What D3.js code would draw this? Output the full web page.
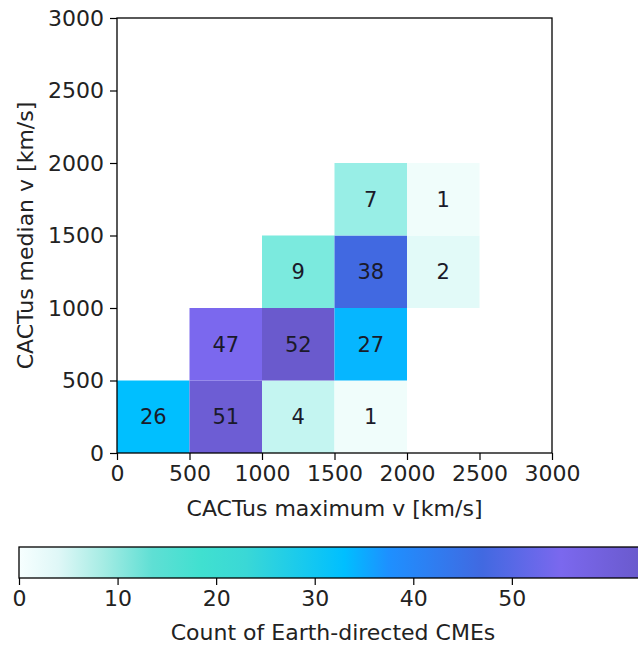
<!DOCTYPE html>
<html>
<head>
<meta charset="utf-8">
<script src="https://cdn.jsdelivr.net/npm/d3@7"></script>
<style>
  html, body { margin: 0; padding: 0; background: #fff; }
  svg { display: block; }
  text { font-family: "DejaVu Sans", sans-serif; }
</style>
</head>
<body>
<script>
// ---- data ----
const binSize = 500;
const maxVBins    = [0, 500, 1000, 1500, 500, 1000, 1500, 1000, 1500, 2000, 1500, 2000];
const medianVBins = [0, 0, 0, 0, 500, 500, 500, 1000, 1000, 1000, 1500, 1500];
const counts      = [26, 51, 4, 1, 47, 52, 27, 9, 38, 2, 7, 1];
const axisTicks   = [0, 500, 1000, 1500, 2000, 2500, 3000];
const cbTicks     = [0, 10, 20, 30, 40, 50];
// colormap for the cells
const cmapValues  = [0, 13, 26, 31, 38, 47, 52];
const cmapColors  = ["#ffffff", "#40e0d0", "#00bfff", "#1e90ff", "#4169e1", "#7b68ee", "#6a5acd"];
// colormap as drawn in the colour bar
const cbStopValues = [0, 4, 8.5, 13.5, 18.5, 23, 33, 37.5, 47, 55, 63];
const cbStopColors = ["#f7ffff", "#dff7f7", "#a6ece4", "#5fdfd4", "#40e0d0", "#3ad8d6", "#00bfff", "#1e90ff", "#4169e1", "#7b68ee", "#6a5acd"];
const cbMax = 63;

const W = 638, H = 648;
const FS = 22;
const svg = d3.select("body").append("svg").attr("width", W).attr("height", H);

const x = d3.scaleLinear().domain([0, 3000]).range([117, 552]);
const y = d3.scaleLinear().domain([0, 3000]).range([453, 18]);
const color = d3.scaleLinear().domain(cmapValues).range(cmapColors).interpolate(d3.interpolateRgb).clamp(true);

const cells = counts.map((c, i) => ({ x0: maxVBins[i], y0: medianVBins[i], c }));

const g = svg.append("g");
g.selectAll("rect.cell").data(cells).join("rect")
  .attr("class", "cell")
  .attr("x", d => x(d.x0))
  .attr("y", d => y(d.y0 + binSize))
  .attr("width", d => x(d.x0 + binSize) - x(d.x0))
  .attr("height", d => y(d.y0) - y(d.y0 + binSize))
  .attr("fill", d => color(d.c));

g.selectAll("text.cnt").data(cells).join("text")
  .attr("class", "cnt")
  .attr("x", d => x(d.x0 + binSize / 2))
  .attr("y", d => y(d.y0 + binSize / 2))
  .attr("dy", "0.36em")
  .attr("text-anchor", "middle")
  .attr("font-size", 21)
  .attr("fill", "#1a1a2a")
  .text(d => d.c);

// frame
svg.append("rect")
  .attr("x", x(0)).attr("y", y(3000))
  .attr("width", x(3000) - x(0)).attr("height", y(0) - y(3000))
  .attr("fill", "none").attr("stroke", "#000").attr("stroke-width", 1.3);

// axes
const xAxis = svg.append("g").attr("transform", `translate(0,${y(0)})`)
  .call(d3.axisBottom(x).tickValues(axisTicks).tickSize(7).tickPadding(5).tickFormat(d3.format("d")));
const yAxis = svg.append("g").attr("transform", `translate(${x(0)},0)`)
  .call(d3.axisLeft(y).tickValues(axisTicks).tickSize(7).tickPadding(6).tickFormat(d3.format("d")));
[xAxis, yAxis].forEach(a => {
  a.select(".domain").remove();
  a.selectAll(".tick line").attr("stroke", "#000").attr("stroke-width", 1.2);
  a.selectAll(".tick text").attr("font-size", FS).attr("fill", "#222").attr("font-family", "DejaVu Sans, sans-serif");
});

svg.append("text")
  .attr("x", (x(0) + x(3000)) / 2).attr("y", 516)
  .attr("text-anchor", "middle").attr("font-size", FS).attr("fill", "#222")
  .text("CACTus maximum v [km/s]");
svg.append("text")
  .attr("transform", `translate(33,${(y(0) + y(3000)) / 2}) rotate(-90)`)
  .attr("text-anchor", "middle").attr("font-size", FS).attr("fill", "#222")
  .text("CACTus median v [km/s]");

// colour bar
const cbX = d3.scaleLinear().domain([0, cbMax]).range([19, 640]);
const cbTop = 547, cbBot = 578;
const defs = svg.append("defs");
const grad = defs.append("linearGradient").attr("id", "cbgrad").attr("x1", "0%").attr("x2", "100%");
cbStopValues.forEach((v, i) => {
  grad.append("stop").attr("offset", (v / cbMax * 100) + "%").attr("stop-color", cbStopColors[i]);
});
svg.append("rect")
  .attr("x", cbX(0)).attr("y", cbTop)
  .attr("width", cbX(cbMax) - cbX(0)).attr("height", cbBot - cbTop)
  .attr("fill", "url(#cbgrad)").attr("stroke", "#000").attr("stroke-width", 1.3);
const cbAxis = svg.append("g").attr("transform", `translate(0,${cbBot})`)
  .call(d3.axisBottom(cbX).tickValues(cbTicks).tickSize(7).tickPadding(5).tickFormat(d3.format("d")));
cbAxis.select(".domain").remove();
cbAxis.selectAll(".tick line").attr("stroke", "#000").attr("stroke-width", 1.2);
cbAxis.selectAll(".tick text").attr("font-size", FS).attr("fill", "#222").attr("font-family", "DejaVu Sans, sans-serif");
svg.append("text")
  .attr("x", 333).attr("y", 640)
  .attr("text-anchor", "middle").attr("font-size", FS).attr("fill", "#222")
  .text("Count of Earth-directed CMEs");
</script>
</body>
</html>
